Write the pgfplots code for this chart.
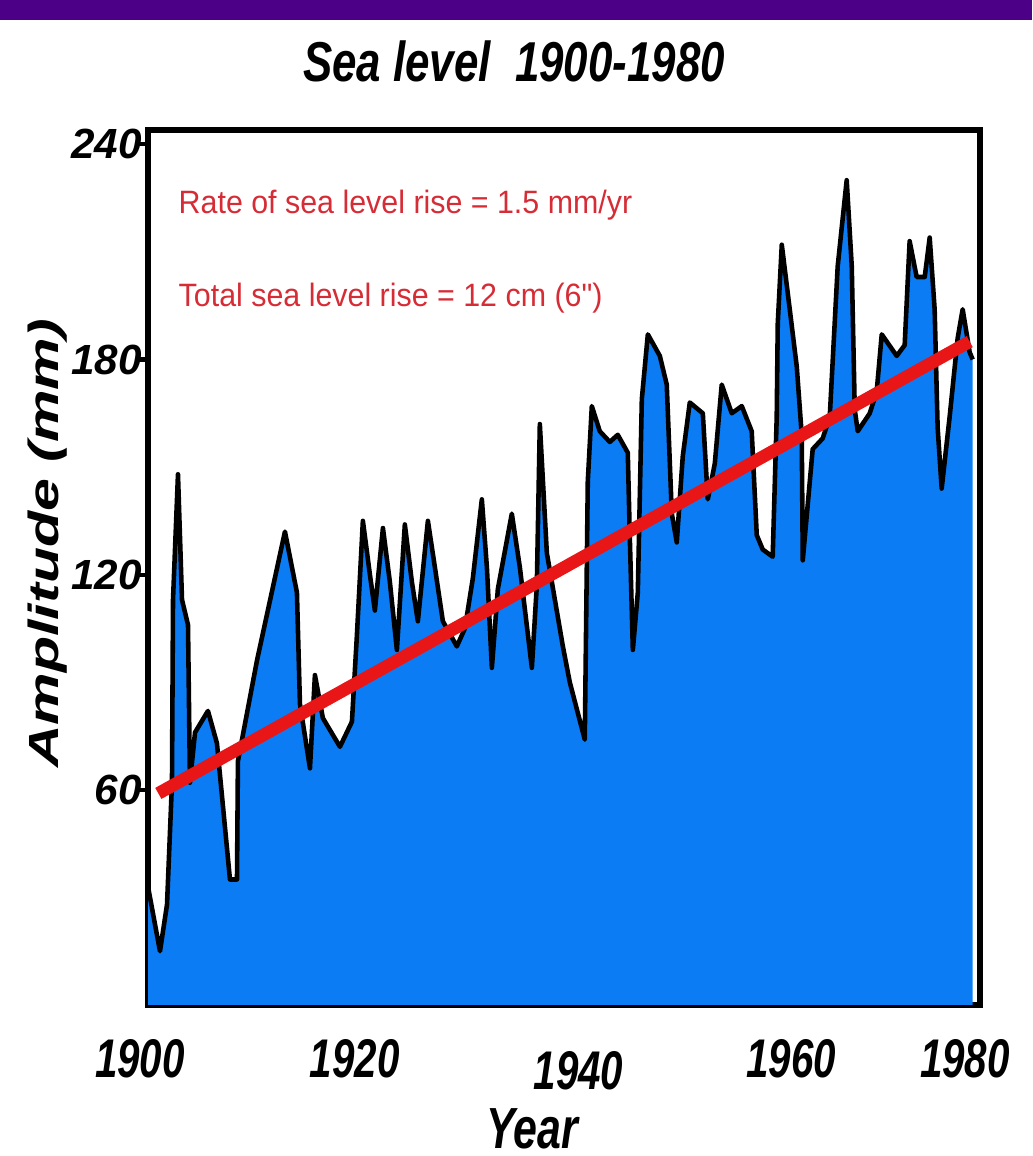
\documentclass[border=0pt]{standalone}
\usepackage{fontspec}
\usepackage{pgfplots}
\pgfplotsset{compat=1.18}
\usepackage{pgfplotstable}
\setmainfont{Liberation Sans}
\newfontfamily\titlefont{Liberation Sans}[FakeStretch=0.78]
\newfontfamily\xtickfont{Liberation Sans}[FakeStretch=0.74]
\newfontfamily\ytickfont{Liberation Sans}[FakeStretch=1.0]
\newfontfamily\ylabfont{Liberation Sans}[FakeStretch=1.4]
\newfontfamily\xlabfont{Liberation Sans}[FakeStretch=0.74]
\newfontfamily\notefont{Liberation Sans}[FakeStretch=0.94]
\definecolor{seablue}{RGB}{12,124,245}
\definecolor{trendred}{RGB}{232,22,22}
\definecolor{notered}{RGB}{214,44,54}
\definecolor{barpurple}{RGB}{76,0,136}

\pgfplotstableread{
year value
1900.00 33
1901.16 15
1901.84 28
1902.32 62
1902.42 113
1902.90 148
1903.29 113
1903.87 106
1904.06 62
1904.55 76
1905.80 82
1906.67 73
1907.93 35
1908.61 35
1908.70 68
1910.54 96
1913.25 132
1914.41 115
1914.70 84
1915.67 66
1916.15 92
1916.92 80
1918.57 72
1919.73 79
1920.21 103
1920.79 135
1921.47 120
1921.95 110
1922.73 133
1923.40 118
1924.08 99
1924.85 134
1925.53 118
1926.11 107
1927.08 135
1927.76 122
1928.53 107
1929.88 100
1930.66 105
1931.43 119
1932.30 141
1932.79 122
1933.27 94
1933.85 116
1935.20 137
1935.98 122
1937.14 94
1937.62 117
1937.91 162
1938.59 126
1939.07 118
1940.14 100
1940.81 90
1942.26 74
1942.55 146
1942.94 167
1943.71 160
1944.68 157
1945.45 159
1946.42 154
1946.62 130
1946.91 99
1947.39 115
1947.78 169
1948.36 187
1949.52 181
1950.19 173
1950.68 137
1951.16 129
1951.74 153
1952.42 168
1953.68 165
1954.16 141
1954.84 151
1955.51 173
1956.48 165
1957.45 167
1958.41 160
1958.90 131
1959.48 127
1960.44 125
1960.83 164
1960.93 190
1961.32 212
1962.09 194
1962.77 178
1963.25 159
1963.35 124
1964.31 155
1965.28 158
1965.96 164
1966.73 206
1967.60 230
1968.09 206
1968.38 166
1968.67 160
1969.83 165
1970.50 171
1970.99 187
1972.44 181
1973.21 184
1973.69 213
1974.37 203
1975.15 203
1975.63 214
1976.11 194
1976.40 161
1976.79 144
1977.56 164
1978.34 186
1978.82 194
1979.50 182
1979.79 180
}\sealevel

\begin{document}
\begin{tikzpicture}
\path[use as bounding box] (0,0) rectangle (10.32,11.56);
\fill[barpurple] (0,11.36) rectangle (10.32,11.56);
\begin{axis}[
  at={(1.48cm,1.51cm)}, anchor=south west,
  width=8.32cm, height=8.75cm, scale only axis,
  xmin=1900, xmax=1980.5, ymin=0, ymax=244,
  axis line style={line width=1.5pt, black},
  xtick={1900,1920,1940,1960,1980},
  xticklabels={{1900\hspace*{0.16cm}},{1920},{\hspace*{0.34cm}\raisebox{-0.12cm}[\height][0pt]{1940}},{\hspace*{0.46cm}1960},{1980\hspace*{0.2cm}}},
  ytick={60,120,180,240},
  yticklabels={60,120,180,240},
  ytick pos=left,
  xtick style={draw=none},
  ytick style={line width=1.2pt, black},
  tick align=outside,
  major tick length=0.1cm,
  xticklabel style={font=\xtickfont\fontsize{15.5}{16}\selectfont\bfseries\itshape, yshift=-0.12cm},
  yticklabel style={font=\ytickfont\fontsize{12}{13}\selectfont\bfseries\itshape, xshift=0.16cm},
  xlabel={Year},
  xlabel style={font=\xlabfont\fontsize{16.5}{17}\selectfont\bfseries\itshape, at={(axis description cs:0.4615,-0.141)}, anchor=center},
  ylabel={Amplitude (mm)},
  ylabel style={font=\ylabfont\fontsize{12}{13}\selectfont\bfseries\itshape, at={(axis description cs:-0.121,0.528)}, anchor=center},
  clip=true,
]
\addplot[fill=seablue, draw=none] table[x=year, y=value] {\sealevel} \closedcycle;
\addplot[black, line width=1.3pt, line join=round] table[x=year, y=value] {\sealevel};
\addplot[trendred, line width=3.6pt] coordinates {(1901,59) (1979.5,185)};
\end{axis}
\node[anchor=base, font=\titlefont\fontsize{16}{17}\selectfont\bfseries\itshape] at (5.14,10.74) {Sea level\ \ 1900-1980};
\node[anchor=base west, inner sep=0pt, text=notered, font=\notefont\fontsize{9.2}{10}\selectfont] at (1.78,9.42) {Rate of sea level rise = 1.5 mm/yr};
\node[anchor=base west, inner sep=0pt, text=notered, font=\notefont\fontsize{9.2}{10}\selectfont] at (1.78,8.49) {Total sea level rise = 12 cm (6")};
\end{tikzpicture}
\end{document}
